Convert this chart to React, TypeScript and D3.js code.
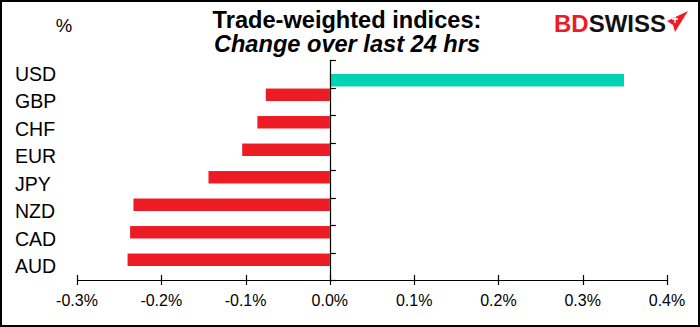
import React, { useEffect, useRef } from "react";
import * as d3 from "d3";

const categories = ["USD", "GBP", "CHF", "EUR", "JPY", "NZD", "CAD", "AUD"];
const changes = [0.349, -0.076, -0.086, -0.104, -0.144, -0.233, -0.237, -0.24];
const seriesKeys = ["fall", "rise"];
const xTicks = [-0.3, -0.2, -0.1, 0, 0.1, 0.2, 0.3, 0.4];

const WIDTH = 700;
const HEIGHT = 327;
const FONT = "'Liberation Sans', Arial, sans-serif";

export default function App() {
  const svgRef = useRef<SVGSVGElement | null>(null);

  useEffect(() => {
    if (!svgRef.current) return;
    const svg = d3.select(svgRef.current);
    svg.selectAll("*").remove();

    const margin = { top: 60, right: 33, bottom: 47, left: 77 };

    const x = d3
      .scaleLinear()
      .domain([-0.3, 0.4])
      .range([margin.left, WIDTH - margin.right]);

    const y = d3
      .scaleBand<string>()
      .domain(categories)
      .range([margin.top, HEIGHT - margin.bottom])
      .padding(0);

    // two series slots per category: falls on top, rises below
    const slot = d3
      .scaleBand<string>()
      .domain(seriesKeys)
      .range([0, y.bandwidth()])
      .paddingInner(0.04)
      .paddingOuter(0.08);

    svg
      .append("rect")
      .attr("width", WIDTH)
      .attr("height", HEIGHT)
      .attr("fill", "#fff");

    // bars
    const rows = categories.map((c, i) => ({
      cat: c,
      value: changes[i],
      key: changes[i] >= 0 ? "rise" : "fall",
    }));

    svg
      .append("g")
      .selectAll("rect")
      .data(rows)
      .enter()
      .append("rect")
      .attr("x", (d) => x(Math.min(0, d.value)))
      .attr("width", (d) => Math.abs(x(d.value) - x(0)))
      .attr("y", (d) => (y(d.cat) as number) + (slot(d.key) as number))
      .attr("height", slot.bandwidth())
      .attr("fill", (d) => (d.key === "rise" ? "#00D2B4" : "#ED1C24"));

    // x axis
    const x0 = x(0);
    const axisY = HEIGHT - margin.bottom;
    svg
      .append("line")
      .attr("x1", x(-0.3))
      .attr("x2", x(0.4))
      .attr("y1", axisY + 0.5)
      .attr("y2", axisY + 0.5)
      .attr("stroke", "#000")
      .attr("stroke-width", 1.2);

    svg
      .append("g")
      .selectAll("line")
      .data(xTicks)
      .enter()
      .append("line")
      .attr("x1", (d) => Math.round(x(d)) + 0.5)
      .attr("x2", (d) => Math.round(x(d)) + 0.5)
      .attr("y1", axisY - 5)
      .attr("y2", axisY + 5)
      .attr("stroke", "#000")
      .attr("stroke-width", 1.2);

    svg
      .append("g")
      .selectAll("text")
      .data(xTicks)
      .enter()
      .append("text")
      .attr("x", (d) => x(d))
      .attr("y", axisY + 26)
      .attr("text-anchor", "middle")
      .attr("fill", "#000")
      .style("font-family", FONT)
      .style("font-size", "16px")
      .text((d) => d.toFixed(1) + "%");

    // zero line with category ticks
    svg
      .append("line")
      .attr("x1", Math.round(x0) + 0.5)
      .attr("x2", Math.round(x0) + 0.5)
      .attr("y1", margin.top)
      .attr("y2", axisY)
      .attr("stroke", "#000")
      .attr("stroke-width", 1.2);

    const bounds = categories.map((c) => y(c) as number).concat([axisY]);
    svg
      .append("g")
      .selectAll("line")
      .data(bounds)
      .enter()
      .append("line")
      .attr("x1", x0)
      .attr("x2", x0 + 6)
      .attr("y1", (d) => Math.round(d) + 0.5)
      .attr("y2", (d) => Math.round(d) + 0.5)
      .attr("stroke", "#000")
      .attr("stroke-width", 1.2);

    // category labels
    svg
      .append("g")
      .selectAll("text")
      .data(categories)
      .enter()
      .append("text")
      .attr("x", 15)
      .attr("y", (d) => (y(d) as number) + y.bandwidth() / 2 + 7)
      .attr("fill", "#000")
      .style("font-family", FONT)
      .style("font-size", "19.5px")
      .text((d) => d);

    // unit label
    svg
      .append("text")
      .attr("x", 64)
      .attr("y", 32)
      .attr("text-anchor", "middle")
      .style("font-family", FONT)
      .style("font-size", "18.5px")
      .text("%");

    // title
    svg
      .append("text")
      .attr("x", 347)
      .attr("y", 28)
      .attr("text-anchor", "middle")
      .style("font-family", FONT)
      .style("font-size", "23.6px")
      .style("font-weight", "bold")
      .text("Trade-weighted indices:");

    svg
      .append("text")
      .attr("x", 347)
      .attr("y", 52)
      .attr("text-anchor", "middle")
      .style("font-family", FONT)
      .style("font-size", "23.6px")
      .style("font-weight", "bold")
      .style("font-style", "italic")
      .text("Change over last 24 hrs");

    // logo
    const logo = svg
      .append("text")
      .attr("x", 554)
      .attr("y", 32)
      .style("font-family", FONT)
      .style("font-size", "24px")
      .style("font-weight", "bold");
    logo.append("tspan").attr("fill", "#ED1C24").text("BD");
    logo.append("tspan").attr("fill", "#111").text("SWISS");

    svg
      .append("path")
      .attr("d", "M667,21 L688,11 L675,32 L673,25 Z")
      .attr("fill", "#ED1C24");
    svg
      .append("path")
      .attr("d", "M672,19 h6 M675,16 v7")
      .attr("stroke", "#fff")
      .attr("stroke-width", 1.3);

    // frame
    svg
      .append("rect")
      .attr("x", 1)
      .attr("y", 1)
      .attr("width", WIDTH - 2)
      .attr("height", HEIGHT - 2)
      .attr("fill", "none")
      .attr("stroke", "#000")
      .attr("stroke-width", 2);
  }, []);

  return (
    <svg
      ref={svgRef}
      width={WIDTH}
      height={HEIGHT}
      style={{ position: "absolute", left: 0, top: 0, display: "block" }}
    />
  );
}
